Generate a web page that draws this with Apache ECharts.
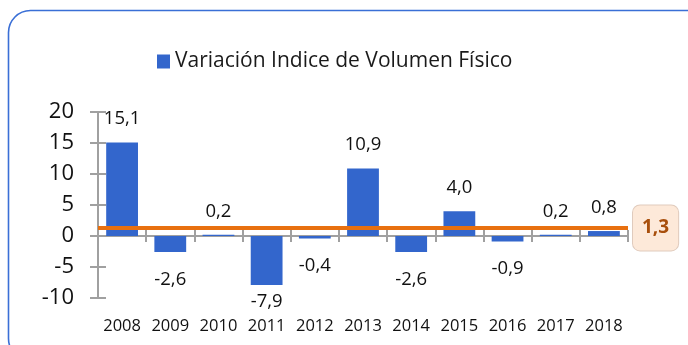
<!DOCTYPE html>
<html>
<head>
<meta charset="utf-8">
<script src="https://cdn.jsdelivr.net/npm/echarts@6/dist/echarts.min.js"></script>
<style>
  html, body { margin: 0; padding: 0; background: #ffffff; }
  #chart { width: 688px; height: 345px; }
</style>
</head>
<body>
<div id="chart"></div>
<script>
// Annual data: variation of the physical volume index
const years = ['2008', '2009', '2010', '2011', '2012', '2013', '2014', '2015', '2016', '2017', '2018'];
const variation = [15.1, -2.6, 0.2, -7.9, -0.4, 10.9, -2.6, 4.0, -0.9, 0.2, 0.8];
const averageValue = 1.3;
const yTicks = [-10, -5, 0, 5, 10, 15, 20];
const seriesName = 'Variación Indice de Volumen Físico';

const FONT = 'Open Sans';
const BAR_COLOR = '#3366cc';
const LINE_COLOR = '#e8700f';
const AXIS_COLOR = '#a0a0a0';

const fmt = v => v.toFixed(1).replace('.', ',');

// Per-bar label distance (the deepest negative bar sits its label closer)
const labelDistance = v => (v >= 0 ? 14 : (v < -5 ? 7 : 18));

const barData = variation.map(v => ({
  value: v,
  label: { position: v >= 0 ? 'top' : 'bottom', distance: labelDistance(v) }
}));

const chart = echarts.init(document.getElementById('chart'), null, { renderer: 'canvas' });

chart.setOption({
  animation: false,
  backgroundColor: '#ffffff',
  textStyle: { fontFamily: FONT },
  graphic: [{
    type: 'rect',
    left: 6, top: 8,
    shape: { width: 706, height: 350, r: 22 },
    style: { fill: 'none', stroke: '#3a6fd6', lineWidth: 1.6 },
    silent: true, z: -10
  }],
  legend: {
    data: [seriesName],
    top: 51,
    left: 157,
    padding: 0,
    itemWidth: 13, itemHeight: 14, itemGap: 5,
    textStyle: { fontFamily: FONT, fontSize: 21, color: '#1a1a1a' },
    icon: 'rect'
  },
  grid: { left: 98, right: 60, top: 112, bottom: 47 },
  xAxis: [
    {
      // labels along the bottom edge
      type: 'category', data: years, position: 'bottom',
      axisLine: { show: false, onZero: false },
      axisTick: { show: false },
      axisLabel: { interval: 0, margin: 20, fontFamily: FONT, fontSize: 16.5, color: '#111' }
    },
    {
      // zero line with downward ticks
      type: 'category', data: years, position: 'bottom',
      axisLine: { show: true, onZero: true, lineStyle: { color: AXIS_COLOR, width: 2 } },
      axisTick: { show: true, interval: 0, length: 6, lineStyle: { color: AXIS_COLOR, width: 2 } },
      axisLabel: { show: false }
    },
    {
      // upward half of the crossing ticks
      type: 'category', data: years, position: 'bottom',
      axisLine: { show: false, onZero: true },
      axisTick: { show: true, interval: 0, inside: true, length: 6, lineStyle: { color: AXIS_COLOR, width: 2 } },
      axisLabel: { show: false }
    }
  ],
  yAxis: [
    {
      type: 'value', min: yTicks[0], max: yTicks[yTicks.length - 1], interval: 5,
      axisLine: { show: true, lineStyle: { color: AXIS_COLOR, width: 2 } },
      axisTick: { show: true, length: 8, lineStyle: { color: AXIS_COLOR, width: 2 } },
      axisLabel: { margin: 24, fontFamily: FONT, fontSize: 22, color: '#111' },
      splitLine: { show: false }
    },
    {
      type: 'value', min: yTicks[0], max: yTicks[yTicks.length - 1], interval: 5,
      position: 'left',
      axisLine: { show: false },
      axisTick: { show: true, inside: true, length: 8, lineStyle: { color: AXIS_COLOR, width: 2 } },
      axisLabel: { show: false },
      splitLine: { show: false }
    }
  ],
  series: [{
    name: seriesName,
    type: 'bar',
    data: barData,
    barCategoryGap: '34%',
    itemStyle: { color: BAR_COLOR },
    label: {
      show: true,
      formatter: p => fmt(p.value),
      fontFamily: FONT, fontSize: 18.5, color: '#111'
    },
    markLine: {
      silent: true,
      symbol: ['none', 'none'],
      data: [{ yAxis: averageValue }],
      lineStyle: { color: LINE_COLOR, width: 4, type: 'solid' },
      label: {
        show: true,
        position: 'end',
        distance: 5,
        formatter: () => fmt(averageValue),
        fontFamily: FONT, fontSize: 19, fontWeight: 'bold', color: '#a84f0c',
        backgroundColor: '#fde9d9',
        borderColor: '#e0cbbd', borderWidth: 1, borderRadius: 7,
        padding: [14, 9, 12, 9]
      },
      z: 5
    }
  }]
});
</script>
</body>
</html>
